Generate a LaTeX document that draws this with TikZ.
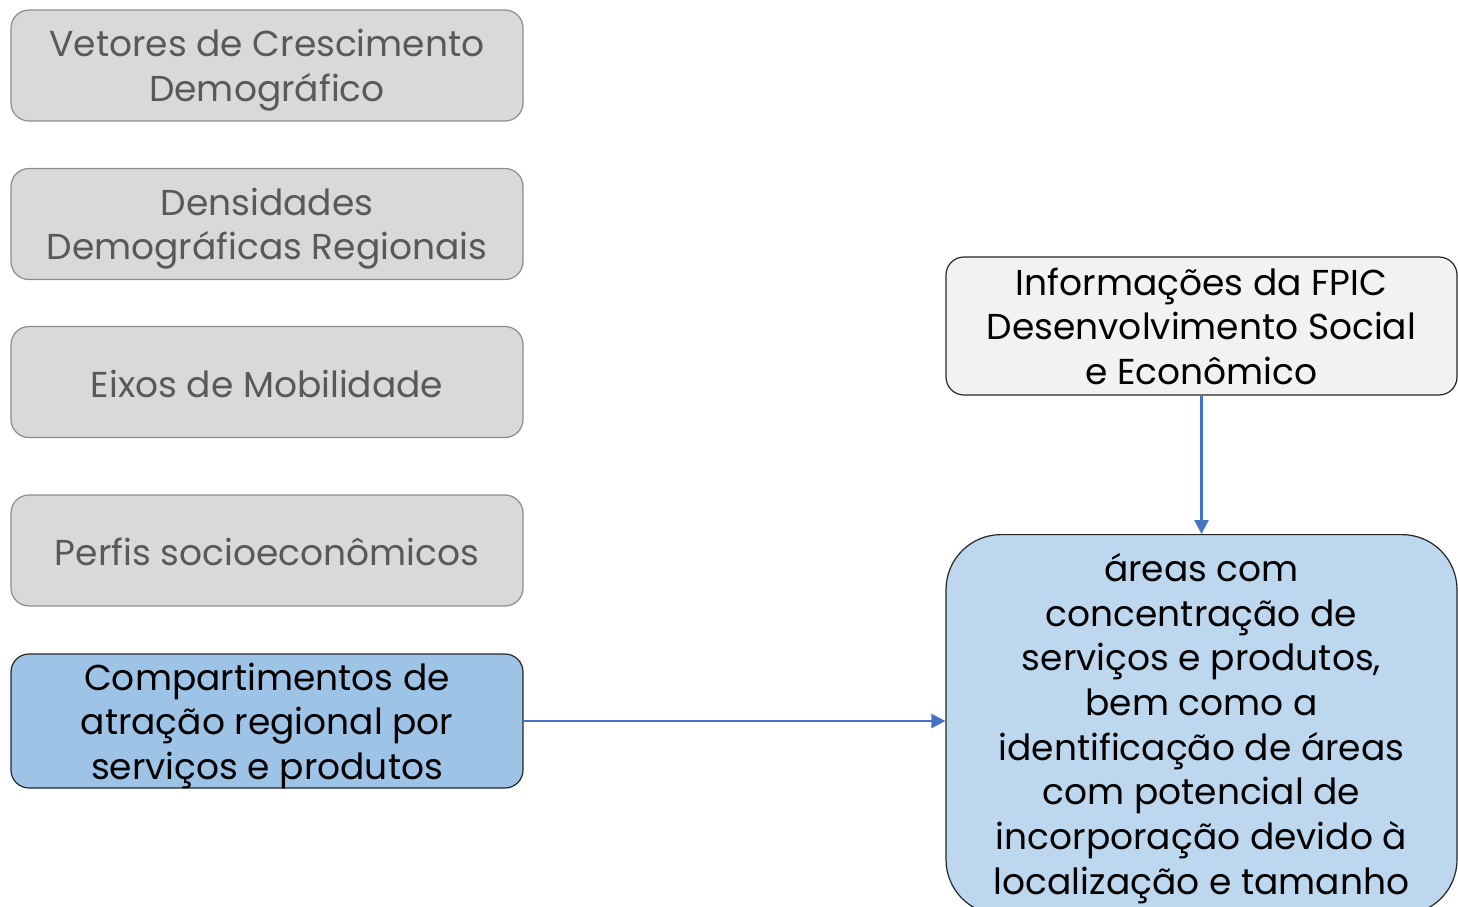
\documentclass[tikz,border=0pt]{standalone}
\usepackage{fontspec}
\setmainfont{Poppins}
\usetikzlibrary{arrows.meta}
\definecolor{graybox}{HTML}{D9D9D9}
\definecolor{grayline}{HTML}{8C8C8C}
\definecolor{graytext}{HTML}{595959}
\definecolor{bluebox}{HTML}{9DC3E6}
\definecolor{lightblue}{HTML}{BDD7EE}
\definecolor{topbox}{HTML}{F2F2F2}
\definecolor{arrowblue}{HTML}{4472C4}
\tikzset{
  base/.style={rectangle, rounded corners=18pt, line width=1.2pt, align=center,
    inner sep=0pt, text depth=0pt, font=\fontsize{36}{44.5}\selectfont},
  graynode/.style={base, draw=grayline, fill=graybox, text=graytext,
    minimum width=512pt, minimum height=111pt},
  bluenode/.style={base, draw=black!85, fill=bluebox, text=black,
    minimum width=512pt, minimum height=134pt},
  infonode/.style={base, draw=black!85, fill=topbox, text=black,
    minimum width=511pt, minimum height=138pt},
  resultnode/.style={base, rounded corners=55pt, draw=black!85, fill=lightblue, text=black,
    minimum width=511pt, minimum height=380pt},
  conn/.style={draw=arrowblue, line width=2.5pt, -{Triangle[length=14pt,width=14pt]}}
}
\begin{document}
\begin{tikzpicture}[x=1pt,y=-1pt]
\useasboundingbox (0,0) rectangle (1458,906);
\node[graynode] (n1) at (267,65.5) {Vetores de Crescimento\\Demográfico};
\node[graynode] (n2) at (267,224) {Densidades\\Demográficas Regionais};
\node[graynode, text height=30pt] (n3) at (267,382) {Eixos de Mobilidade};
\node[graynode, text height=30pt] (n4) at (267,550.5) {Perfis socioeconômicos};
\node[bluenode] (n5) at (267,721) {Compartimentos de\\atração regional por\\serviços e produtos};
\node[infonode] (info) at (1201.5,326) {Informações da FPIC\\Desenvolvimento Social\\e Econômico};
\node[resultnode, anchor=north] (res) at (1201.5,534) {};
\node[anchor=north, align=center, font=\fontsize{36}{44.7}\selectfont, inner sep=0pt] (restext) at (1201.5,553)
  {áreas com\\concentração de\\serviços e produtos,\\bem como a\\identificação de áreas\\com potencial de\\incorporação devido à\\localização e tamanho};
\draw[conn] (n5.east) -- (res.west |- 0,721);
\draw[conn] (info.south) -- (res.north);
\end{tikzpicture}
\end{document}
